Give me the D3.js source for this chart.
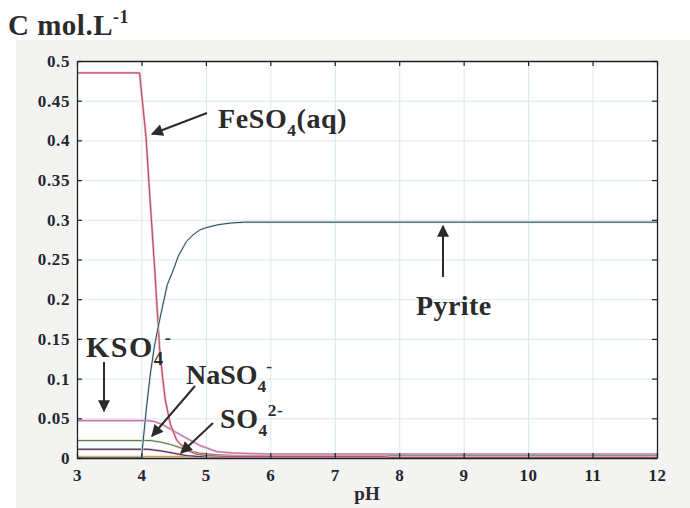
<!DOCTYPE html>
<html><head><meta charset="utf-8">
<script src="https://cdn.jsdelivr.net/npm/d3@7"></script>
<style>
html,body{margin:0;padding:0;background:#fff;}
svg{display:block;}
.lbl{font-family:"Liberation Serif","Times New Roman",serif;font-weight:bold;fill:#2b2b2b;}
.tick text{font-family:"Liberation Serif","Times New Roman",serif;font-weight:bold;fill:#1e2630;}
</style></head>
<body>
<svg id="c" width="690" height="508"></svg>
<script>
// ---- data ----
const xTicks = [3,4,5,6,7,8,9,10,11,12];
const yTicks = [0,0.05,0.1,0.15,0.2,0.25,0.3,0.35,0.4,0.45,0.5];
const yTickLabels = ["0","0.05","0.1","0.15","0.2","0.25","0.3","0.35","0.4","0.45","0.5"];

const feso4PH = [3,3.97,4.07,4.13,4.2,4.28,4.33,4.37,4.45,4.55,4.7,4.85,5.0,5.3,7.8,7.85,12];
const feso4C  = [0.485,0.485,0.405,0.33,0.245,0.14,0.10,0.073,0.042,0.022,0.010,0.005,0.003,0.002,0.002,0.0003,0.0003];

const pyritePH = [3,4.0,4.08,4.14,4.2,4.26,4.33,4.4,4.5,4.57,4.7,4.8,4.9,5.0,5.2,5.4,5.6,12];
const pyriteC  = [0,0,0.065,0.107,0.14,0.165,0.192,0.218,0.238,0.254,0.273,0.281,0.287,0.290,0.294,0.296,0.297,0.297];

const kso4PH = [3,4.1,4.2,4.34,4.5,4.7,4.9,5.17,5.4,5.64,6,12];
const kso4C  = [0.047,0.047,0.046,0.0415,0.034,0.025,0.016,0.008,0.0065,0.0057,0.005,0.005];

const naso4PH = [3,4.15,4.3,4.45,4.6,4.7,4.9,5.17,5.5,12];
const naso4C  = [0.022,0.022,0.020,0.017,0.013,0.010,0.006,0.004,0.003,0.003];

const so4PH = [3,4.1,4.3,4.5,4.7,4.9,5.2,12];
const so4C  = [0.011,0.011,0.009,0.006,0.003,0.0018,0.0015,0.0015];

const minorPH = [3,8.7,8.75,12];
const minorC  = [0.0018,0.0018,0.0002,0.0002];

// ---- drawing ----
const svg = d3.select("#c");
const L=77,R=657,T=61,B=458;
const x = d3.scaleLinear().domain([3,12]).range([L,R]);
const y = d3.scaleLinear().domain([0,0.5]).range([B,T]);

// figure background
svg.append("rect").attr("x",16).attr("y",40).attr("width",674).attr("height",468).attr("fill","#f3f3f1");
svg.append("rect").attr("x",L).attr("y",T).attr("width",R-L).attr("height",B-T).attr("fill","#ffffff");

// grid
const gx = svg.append("g").attr("transform",`translate(0,${B})`)
  .call(d3.axisBottom(x).tickValues(xTicks).tickSize(-(B-T)).tickFormat(""));
const gy = svg.append("g").attr("transform",`translate(${L},0)`)
  .call(d3.axisLeft(y).tickValues(yTicks).tickSize(-(R-L)).tickFormat(""));
[gx,gy].forEach(g=>{g.select(".domain").remove();g.selectAll("line").attr("stroke","#d9e7ef").attr("stroke-width",1);});

// series
const series = [
  {ph:minorPH, c:minorC, core:"#d89040", halo:"#f3c9a0"},
  {ph:so4PH, c:so4C, core:"#1d2a55", halo:"#eab0b4"},
  {ph:naso4PH, c:naso4C, core:"#2f8466", halo:"#f0cfa4"},
  {ph:kso4PH, c:kso4C, core:"#a56cc0", halo:"#f3b3c6"},
  {ph:feso4PH, c:feso4C, core:"#a34a60", halo:"#f5aab3"},
  {ph:pyritePH, c:pyriteC, core:"#1c3f47", halo:"#d3e3e8"}
];
const line = d3.line().x(d=>x(d[0])).y(d=>y(d[1]));
series.forEach(s=>{
  const pts = s.ph.map((p,i)=>[p,s.c[i]]);
  svg.append("path").datum(pts).attr("d",line).attr("fill","none")
    .attr("stroke",s.halo).attr("stroke-width",2.3).attr("stroke-linejoin","round");
  svg.append("path").datum(pts).attr("d",line).attr("fill","none")
    .attr("stroke",s.core).attr("stroke-width",0.95).attr("stroke-linejoin","round");
});

// axes (inward ticks on all four sides)
const ax = [];
ax.push(svg.append("g").attr("transform",`translate(0,${B})`)
  .call(d3.axisBottom(x).tickValues(xTicks).tickSizeInner(-5).tickSizeOuter(0).tickPadding(11).tickFormat(d3.format("d"))));
ax.push(svg.append("g").attr("transform",`translate(${L},0)`)
  .call(d3.axisLeft(y).tickValues(yTicks).tickSizeInner(-5).tickSizeOuter(0).tickPadding(7).tickFormat((d,i)=>yTickLabels[i])));
ax.push(svg.append("g").attr("transform",`translate(0,${T})`)
  .call(d3.axisTop(x).tickValues(xTicks).tickSizeInner(-5).tickSizeOuter(0).tickFormat("")));
ax.push(svg.append("g").attr("transform",`translate(${R},0)`)
  .call(d3.axisRight(y).tickValues(yTicks).tickSizeInner(-5).tickSizeOuter(0).tickFormat("")));
ax.forEach(g=>{
  g.select(".domain").attr("stroke","#1a2228").attr("stroke-width",1.3);
  g.selectAll(".tick line").attr("stroke","#1a2228").attr("stroke-width",1.2);
  g.selectAll(".tick text").style("font-size","17px").style("letter-spacing","0.6px");
});

// axis titles / labels
function label(px,py,parts,size,ls){
  const t = svg.append("text").attr("class","lbl").attr("x",px).attr("y",py)
    .style("font-size",size+"px").style("letter-spacing",(ls||0)+"px");
  let shift=0;
  parts.forEach(p=>{
    const ts = t.append("tspan").text(p.t);
    let target = p.sub ? size*0.28 : p.sup ? -size*0.42 : 0;
    ts.attr("dy",target-shift);
    shift = target;
    if(p.sub||p.sup) ts.style("font-size",(size*0.62)+"px");
  });
  return t;
}
label(8,35,[{t:"C mol.L"},{t:"-1",sup:true}],29,0.5);
svg.append("text").attr("class","lbl").attr("x",367).attr("y",500).attr("text-anchor","middle").style("font-size","19px").text("pH");

label(218,128,[{t:"FeSO"},{t:"4",sub:true},{t:"(aq)"}],28,0.6);
label(416,315,[{t:"Pyrite"}],28,0.4);
label(86,357,[{t:"KSO"},{t:"4",sub:true},{t:"-",sup:true}],30,1.5);
label(186,384,[{t:"NaSO"},{t:"4",sub:true},{t:"-",sup:true}],28,0);
label(220,428,[{t:"SO"},{t:"4",sub:true},{t:"2-",sup:true}],28,0.6);

// arrows
const defs = svg.append("defs");
defs.append("marker").attr("id","ah").attr("viewBox","0 0 10 10").attr("refX",9).attr("refY",5)
  .attr("markerWidth",7).attr("markerHeight",6).attr("markerUnits","strokeWidth").attr("orient","auto")
  .append("path").attr("d","M0,0 L10,5 L0,10 z").attr("fill","#2b2b2b");
const arrows = [
  [207,113,152,134],
  [443,277,443,226],
  [104,362,104,411],
  [195,386,152,436],
  [213,423,181,453]
];
arrows.forEach(a=>{
  svg.append("line").attr("x1",a[0]).attr("y1",a[1]).attr("x2",a[2]).attr("y2",a[3])
    .attr("stroke","#2b2b2b").attr("stroke-width",2).attr("marker-end","url(#ah)");
});
</script>
</body></html>
